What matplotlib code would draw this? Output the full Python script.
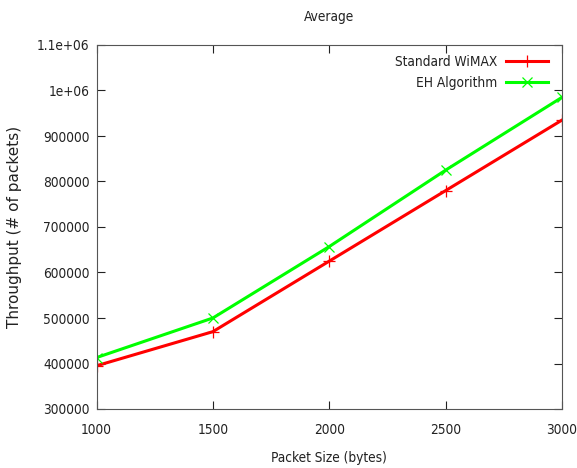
import matplotlib
matplotlib.use("Agg")
import matplotlib.pyplot as plt
from matplotlib import font_manager

# pick a narrow face if one is installed (gnuplot-style look)
narrow = None
for f in font_manager.fontManager.ttflist:
    if "Narrow" in f.name or "Condensed" in f.name:
        narrow = f.name
        break
    if f.name == "DejaVu Sans" and f.stretch in ("condensed", 87.5, 75):
        narrow = "DejaVu Sans"
        break
if narrow:
    plt.rcParams["font.family"] = [narrow, "DejaVu Sans"]
    if narrow == "DejaVu Sans":
        plt.rcParams["font.stretch"] = "condensed"
    fs = 9.8
else:
    plt.rcParams["font.family"] = ["DejaVu Sans"]
    fs = 8

packet_sizes = [1000, 1500, 2000, 2500, 3000]
standard_wimax = [395000, 470000, 625000, 780000, 935000]
eh_algorithm = [413000, 500000, 657000, 825000, 985000]

y_ticks = [300000, 400000, 500000, 600000, 700000, 800000, 900000, 1000000, 1100000]
y_labels = ["300000", "400000", "500000", "600000", "700000", "800000", "900000", "1e+06", "1.1e+06"]

fig = plt.figure(figsize=(5.77, 4.68), dpi=100)
ax = fig.add_axes([96.5 / 577, 1 - 409 / 468, 465.5 / 577, 364 / 468])

ax.plot(packet_sizes, standard_wimax, color="#ff0000", linewidth=2.2, marker="+",
        markersize=9, markeredgewidth=0.9, label="Standard WiMAX")
ax.plot(packet_sizes, eh_algorithm, color="#00ff00", linewidth=2.2, marker="x",
        markersize=7, markeredgewidth=0.9, label="EH Algorithm")

ax.set_xlim(1000, 3000)
ax.set_ylim(300000, 1100000)
ax.set_xticks([1000, 1500, 2000, 2500, 3000])
ax.set_yticks(y_ticks)
ax.set_yticklabels(y_labels)
ax.tick_params(direction="in", top=True, right=True, length=6, labelsize=fs,
               width=0.8, color="#222222", labelcolor="#222222")
ax.tick_params(axis="y", pad=5)
ax.tick_params(axis="x", pad=10)
for s in ax.spines.values():
    s.set_linewidth(0.8)
    s.set_color("#555555")

ax.set_title("Average", fontsize=fs, pad=17, color="#222222")
ax.set_xlabel("Packet Size (bytes)", fontsize=fs, labelpad=10, color="#222222")
ax.set_ylabel("Throughput (# of packets)", fontsize=11, family="DejaVu Sans",
              fontstretch="normal", color="#222222")
ax.yaxis.set_label_coords(-0.16, 0.5)

leg = ax.legend(loc="upper right", bbox_to_anchor=(0.970, 0.972), frameon=False,
                markerfirst=False, fontsize=fs, handlelength=3.1, borderaxespad=0,
                borderpad=0, labelspacing=0.5, handletextpad=0.6)
for t in leg.get_texts():
    t.set_color("#222222")

plt.savefig("out.png", dpi=100)
